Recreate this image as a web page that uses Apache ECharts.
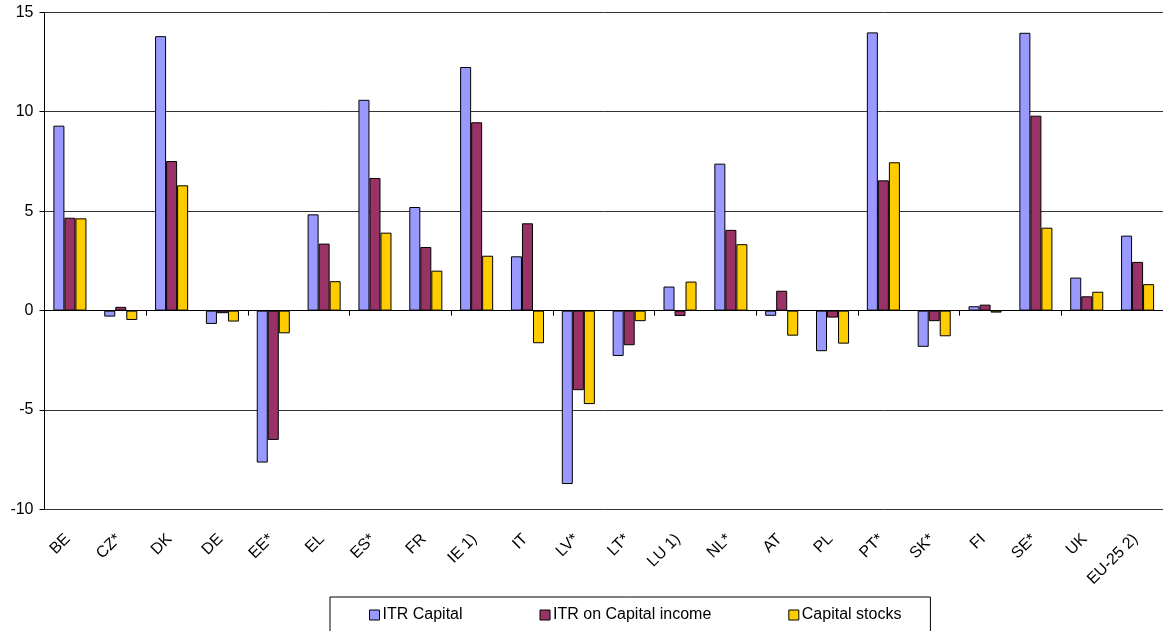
<!DOCTYPE html>
<html>
<head>
<meta charset="utf-8">
<script src="https://cdn.jsdelivr.net/npm/echarts@6/dist/echarts.min.js"></script>
<style>
html,body{margin:0;padding:0;background:#fff;}
#chart{width:1163px;height:631px;}
</style>
</head>
<body>
<div id="chart"></div>
<script>
var categories = ['BE','CZ*','DK','DE','EE*','EL','ES*','FR','IE 1)','IT','LV*','LT*','LU 1)','NL*','AT','PL','PT*','SK*','FI','SE*','UK','EU-25 2)'];
var itrCapital = [9.3, -0.3, 13.8, -0.67, -7.64, 4.84, 10.6, 5.21, 12.25, 2.73, -8.72, -2.28, 1.21, 7.39, -0.26, -2.04, 13.99, -1.82, 0.22, 13.97, 1.66, 3.77];
var itrCapitalIncome = [4.67, 0.19, 7.52, -0.13, -6.5, 3.37, 6.67, 3.2, 9.47, 4.39, -4.0, -1.74, -0.27, 4.06, 1.0, -0.35, 6.55, -0.53, 0.3, 9.8, 0.72, 2.45];
var capitalStocks = [4.64, -0.47, 6.3, -0.55, -1.14, 1.48, 3.92, 2.01, 2.76, -1.64, -4.7, -0.53, 1.46, 3.34, -1.26, -1.66, 7.46, -1.29, -0.1, 4.17, 0.95, 1.33];
var seriesNames = ['ITR Capital', 'ITR on Capital income', 'Capital stocks'];
var yTicks = {min: -10, max: 15, interval: 5};

var FONT = '"Liberation Sans", Arial, sans-serif';
var chart = echarts.init(document.getElementById('chart'));
function bar(name, data, color) {
  return {
    name: name, type: 'bar', data: data,
    xAxisIndex: 0, yAxisIndex: 0,
    barGap: '0%', barCategoryGap: '35%',
    itemStyle: {color: color, borderColor: '#000', borderWidth: 1},
    emphasis: {disabled: true}
  };
}
chart.setOption({
  animation: false,
  backgroundColor: '#fff',
  textStyle: {fontFamily: FONT},
  grid: {left: 44.5, top: 12.3, width: 1124, height: 497.2, containLabel: false},
  legend: {
    left: 330, top: 597,
    data: seriesNames,
    orient: 'horizontal',
    itemWidth: 10, itemHeight: 10, itemGap: 77,
    padding: [10, 29, 40, 39],
    borderColor: '#000', borderWidth: 1,
    icon: 'rect',
    itemStyle: {borderColor: '#000', borderWidth: 1},
    textStyle: {fontFamily: FONT, fontSize: 16, color: '#000', padding: [0,0,0,-2]},
    selectedMode: false
  },
  xAxis: [
    {
      type: 'category', data: categories, position: 'bottom',
      axisLine: {show: true, onZero: true, lineStyle: {color: '#000', width: 1}},
      axisTick: {show: true, length: 5, lineStyle: {color: '#000'}},
      axisLabel: {show: false},
      splitLine: {show: false}
    },
    {
      type: 'category', data: categories, position: 'bottom',
      axisLine: {show: false, onZero: false},
      axisTick: {show: false},
      axisLabel: {show: true, rotate: 45, margin: 25, padding: [0, 3, 0, 0], fontSize: 16, color: '#000', fontFamily: FONT, interval: 0},
      splitLine: {show: false}
    }
  ],
  yAxis: {
    type: 'value', min: yTicks.min, max: yTicks.max, interval: yTicks.interval,
    axisLine: {show: true, lineStyle: {color: '#000'}},
    axisTick: {show: true, length: 5, lineStyle: {color: '#000'}},
    axisLabel: {margin: 11, fontSize: 16, color: '#000', fontFamily: FONT},
    splitLine: {show: true, lineStyle: {color: '#333', width: 1}}
  },
  series: [
    bar(seriesNames[0], itrCapital, '#9999FF'),
    bar(seriesNames[1], itrCapitalIncome, '#993366'),
    bar(seriesNames[2], capitalStocks, '#FFCC00')
  ]
});
</script>
</body>
</html>
